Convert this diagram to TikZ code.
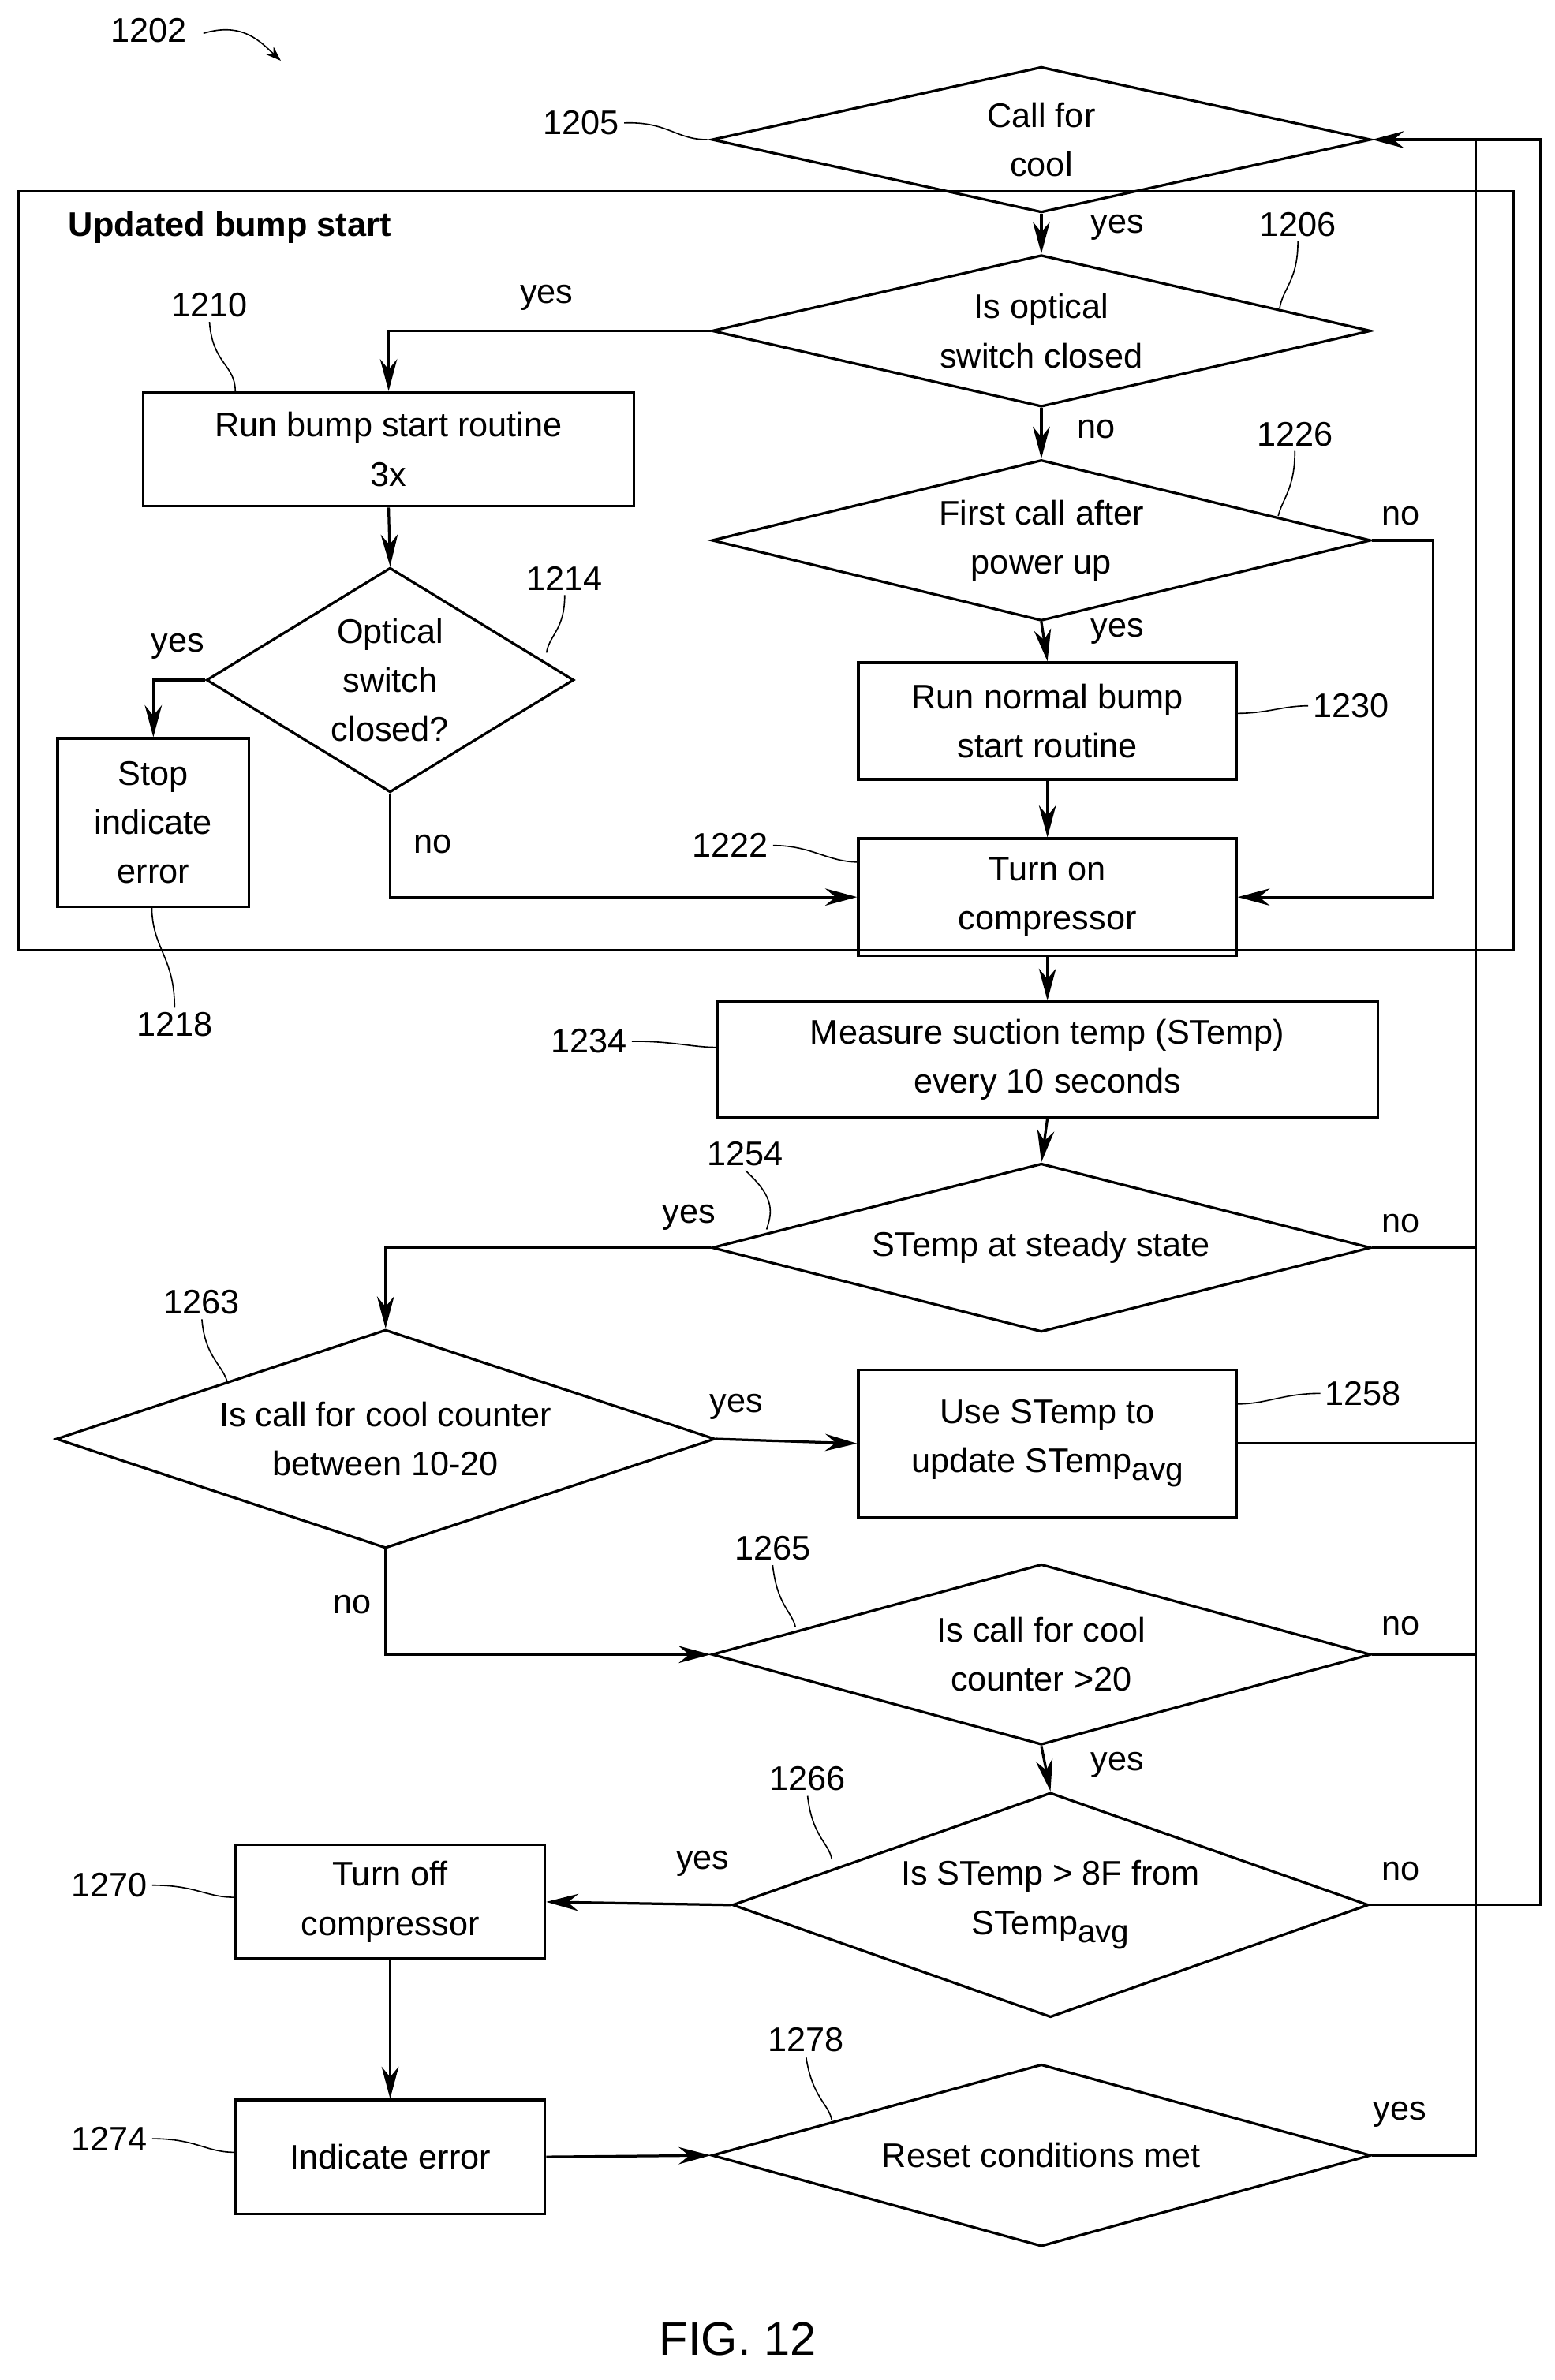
\documentclass[tikz,border=0pt]{standalone}
\usepackage{fontspec}
\setmainfont{Liberation Sans}
\usetikzlibrary{shapes.geometric,arrows.meta}
\begin{document}
\begin{tikzpicture}[x=0.05cm,y=-0.05cm,line width=2.4pt,
  every node/.style={font=\fontsize{32}{46}\selectfont},
  dia/.style 2 args={draw,diamond,inner sep=0pt,minimum width=#1*0.05cm,minimum height=#2*0.05cm},
  box/.style 2 args={draw,rectangle,inner sep=0pt,align=center,minimum width=#1*0.05cm,minimum height=#2*0.05cm},
  arr/.style={-{Stealth[length=30pt,width=16pt]}},
  lbl/.style={inner sep=2pt},
  ld/.style={line width=1.2pt}]
\newcommand{\avgsub}{\raisebox{-0.45ex}{\fontsize{30}{30}\selectfont avg}}
\useasboundingbox (0,0) rectangle (1024,1568);
% frame
\draw (12,126) rectangle (997,626);
\node[anchor=west,font=\fontsize{32}{46}\selectfont\bfseries] (title) at (42,150) {Updated bump start};
% nodes
\node[dia={434}{96},label={[align=center]center:Call for\\cool}] (d1205) at (686,92) {};
\node[dia={434}{100},label={[align=center]center:Is optical\\switch closed}] (d1206) at (686,218) {};
\node[box={323}{75}] (b1210) at (256,296) {Run bump start routine\\3x};
\node[dia={242}{148},label={[align=center]center:Optical\\switch\\closed?}] (d1214) at (257,448) {};
\node[box={126}{111}] (bstop) at (101,542) {Stop\\indicate\\error};
\node[dia={434}{106},label={[align=center]center:First call after\\power up}] (d1226) at (686,356) {};
\node[box={249}{77}] (b1230) at (690,475) {Run normal bump\\start routine};
\node[box={249}{77}] (b1222) at (690,591) {Turn on\\compressor};
\node[box={435}{76}] (b1234) at (690,698) {Measure suction temp (STemp)\\every 10 seconds};
\node[dia={434}{111},label={[align=center]center:STemp at steady state}] (d1254) at (686,822) {};
\node[dia={434}{144},label={[align=center]center:Is call for cool counter\\between 10-20}] (d1263) at (254,948) {};
\node[box={249}{97}] (b1258) at (690,951) {Use STemp to\\update STemp\avgsub};
\node[dia={434}{119},label={[align=center]center:Is call for cool\\counter >20}] (d1265) at (686,1090) {};
\node[dia={419}{148},label={[align=center]center:Is STemp > 8F from\\STemp\avgsub}] (d1266) at (692,1255) {};
\node[box={204}{75}] (b1270) at (257,1253) {Turn off\\compressor};
\node[box={204}{75}] (b1274) at (257,1421) {Indicate error};
\node[dia={434}{120},label={[align=center]center:Reset conditions met}] (d1278) at (686,1420) {};
\node (fig) at (486,1541) {\fontsize{44}{50}\selectfont FIG. 12};
% rail coordinates
\coordinate (rtop1) at (972,92);
\coordinate (rtop2) at (1015,92);
% connectors
\draw[arr] (d1205.south) -- (d1206.north);
\draw[arr] (d1206.west) -| (b1210.north);
\draw[arr] (d1206.south) -- (d1226.north);
\draw[arr] (b1210.south) -- (d1214.north);
\draw[arr] (d1214.west) -| (bstop.north);
\draw[arr] (d1214.south) |- (b1222.west);
\draw[arr] (d1226.south) -- (b1230.north);
\draw[arr] (b1230.south) -- (b1222.north);
\draw[arr] (d1226.east) -| (944,500) |- (b1222.east);
\draw[arr] (b1222.south) -- (b1234.north);
\draw[arr] (b1234.south) -- (d1254.north);
\draw[arr] (d1254.west) -| (d1263.north);
\draw (d1254.east) -- (972,822);
\draw[arr] (d1263.east) -- (b1258.west);
\draw (b1258.east) -- (972,951);
\draw[arr] (d1263.south) |- (d1265.west);
\draw (d1265.east) -- (972,1090);
\draw[arr] (d1265.south) -- (d1266.north);
\draw[arr] (d1266.west) -- (b1270.east);
\draw[arr] (b1270.south) -- (b1274.north);
\draw[arr] (b1274.east) -- (d1278.west);
\draw (d1278.east) -| (rtop1);
\draw[arr] (d1266.east) -| (rtop2) -- (d1205.east);
% yes/no labels
\node at (736,150) {yes};
\node at (360,196) {yes};
\node at (722,283) {no};
\node at (923,340) {no};
\node at (736,416) {yes};
\node at (117,426) {yes};
\node at (285,556) {no};
\node at (454,802) {yes};
\node at (923,806) {no};
\node at (485,927) {yes};
\node at (232,1057) {no};
\node at (923,1071) {no};
\node at (736,1163) {yes};
\node at (463,1228) {yes};
\node at (923,1233) {no};
\node at (922,1393) {yes};
% reference numbers
\node (n1202) at (98,20) {1202};
\draw[ld,-{Stealth[length=14pt,width=10pt]}] (134,22) .. controls (160,14) and (172,28) .. (185,40);
\node (n1205) at (383,81) {1205};
\draw[ld] (n1205.east) .. controls (440,80) and (445,92) .. (466,92);
\node (n1206) at (855,148) {1206};
\draw[ld] (n1206.south) .. controls (855,185) and (845,190) .. (843,203);
\node (n1210) at (138,201) {1210};
\draw[ld] (n1210.south) .. controls (140,240) and (155,240) .. (155,258);
\node (n1214) at (372,381) {1214};
\draw[ld] (n1214.south) .. controls (372,415) and (362,418) .. (360,430);
\node (n1218) at (115,675) {1218};
\draw[ld] (n1218.north) .. controls (115,630) and (100,625) .. (100,597);
\node (n1226) at (853,286) {1226};
\draw[ld] (n1226.south) .. controls (853,322) and (845,328) .. (842,340);
\node (n1230) at (890,465) {1230};
\draw[ld] (n1230.west) .. controls (845,465) and (835,470) .. (815,470);
\node (n1222) at (481,557) {1222};
\draw[ld] (n1222.east) .. controls (535,557) and (545,568) .. (566,568);
\node (n1234) at (388,686) {1234};
\draw[ld] (n1234.east) .. controls (445,686) and (455,690) .. (473,690);
\node (n1254) at (491,760) {1254};
\draw[ld] (n1254.south) .. controls (512,790) and (508,800) .. (505,810);
\node (n1263) at (133,858) {1263};
\draw[ld] (n1263.south) .. controls (135,895) and (148,900) .. (150,912);
\node (n1258) at (898,918) {1258};
\draw[ld] (n1258.west) .. controls (845,918) and (835,925) .. (815,925);
\node (n1265) at (509,1020) {1265};
\draw[ld] (n1265.south) .. controls (512,1058) and (522,1062) .. (524,1072);
\node (n1266) at (532,1172) {1266};
\draw[ld] (n1266.south) .. controls (535,1210) and (546,1214) .. (548,1225);
\node (n1270) at (72,1242) {1270};
\draw[ld] (n1270.east) .. controls (130,1242) and (135,1250) .. (155,1250);
\node (n1274) at (72,1409) {1274};
\draw[ld] (n1274.east) .. controls (130,1409) and (135,1418) .. (155,1418);
\node (n1278) at (531,1344) {1278};
\draw[ld] (n1278.south) .. controls (535,1382) and (546,1386) .. (548,1397);
\end{tikzpicture}
\end{document}
